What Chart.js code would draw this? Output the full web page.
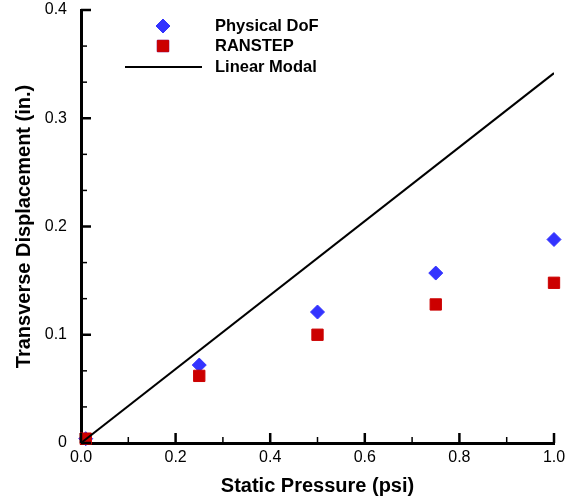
<!DOCTYPE html>
<html>
<head>
<meta charset="utf-8">
<script src="https://cdn.jsdelivr.net/npm/chart.js@4.4.1/dist/chart.umd.min.js"></script>
<style>
  body { margin: 0; background: #fff; }
  #wrap { width: 571px; height: 499px; }
</style>
</head>
<body>
<div id="wrap"><canvas id="myChart"></canvas></div>
<script>
// data
var pressure = [0.01, 0.25, 0.5, 0.75, 1.0];
var physicalDof = [0.004, 0.072, 0.121, 0.157, 0.188];
var ranstep = [0.004, 0.062, 0.100, 0.128, 0.148];
var linearX = [0, 1.0];
var linearY = [0, 0.3417];

var xTickLabels = ["0.0", "0.2", "0.4", "0.6", "0.8", "1.0"];
var yTickLabels = ["0", "0.1", "0.2", "0.3", "0.4"];
var xMinor = [0.1, 0.3, 0.5, 0.7, 0.9];
var yMinor = [1/30, 2/30, 4/30, 5/30, 7/30, 8/30, 10/30, 11/30];

var FONT = '"Liberation Sans", Arial, sans-serif';

function pts(xs, ys) {
    return xs.map(function (x, i) { return { x: x, y: ys[i] }; });
}

// inward pointing tick marks, major and minor
var inwardTicks = {
    id: 'inwardTicks',
    afterDraw: function (chart) {
        var ctx = chart.ctx;
        var xs = chart.scales.x, ys = chart.scales.y;
        var area = chart.chartArea;
        ctx.save();
        ctx.strokeStyle = '#000';
        function tick(x1, y1, x2, y2, w) {
            ctx.lineWidth = w;
            ctx.beginPath();
            ctx.moveTo(x1, y1);
            ctx.lineTo(x2, y2);
            ctx.stroke();
        }
        xs.ticks.forEach(function (t) {
            var px = xs.getPixelForValue(t.value);
            tick(px, area.bottom, px, area.bottom - 10, 2.5);
        });
        xMinor.forEach(function (v) {
            var px = xs.getPixelForValue(v);
            tick(px, area.bottom, px, area.bottom - 6, 1.5);
        });
        ys.ticks.forEach(function (t) {
            var py = ys.getPixelForValue(t.value);
            tick(area.left, py, area.left + 10, py, 2.5);
        });
        yMinor.forEach(function (v) {
            var py = ys.getPixelForValue(v);
            tick(area.left, py, area.left + 6, py, 1.5);
        });
        ctx.restore();
    }
};

// legend drawn inside the plot, top left
var insideLegend = {
    id: 'insideLegend',
    afterDraw: function (chart) {
        var ctx = chart.ctx;
        var area = chart.chartArea;
        var symX = area.left + 82, textX = area.left + 134;
        var rows = [area.top + 16, area.top + 36, area.top + 57];
        ctx.save();
        ctx.font = 'bold 16.5px ' + FONT;
        ctx.textBaseline = 'middle';
        ctx.fillStyle = '#000';
        chart.data.datasets.forEach(function (ds, i) {
            var y = rows[i];
            if (ds.showLine) {
                ctx.strokeStyle = ds.borderColor;
                ctx.lineWidth = ds.borderWidth;
                ctx.beginPath();
                ctx.moveTo(area.left + 44, y);
                ctx.lineTo(area.left + 121, y);
                ctx.stroke();
            } else {
                Chart.helpers.drawPoint(ctx, {
                    pointStyle: ds.pointStyle,
                    radius: ds.pointRadius,
                    borderWidth: ds.borderWidth
                }, symX, y);
                ctx.fillStyle = ds.backgroundColor;
                ctx.strokeStyle = ds.borderColor;
                ctx.lineWidth = ds.borderWidth;
                ctx.fill();
                ctx.stroke();
            }
            ctx.fillStyle = '#000';
            ctx.fillText(ds.label, textX, y);
        });
        ctx.restore();
    }
};

var ctx = document.getElementById('myChart').getContext('2d');
var chart = new Chart(ctx, {
    type: 'scatter',
    data: {
        datasets: [{
            label: 'Physical DoF',
            data: pts(pressure, physicalDof),
            pointStyle: 'rectRot',
            pointRadius: 7,
            backgroundColor: '#3333ff',
            borderColor: '#3333ff',
            borderWidth: 1,
            clip: false,
            order: 3
        }, {
            label: 'RANSTEP',
            data: pts(pressure, ranstep),
            pointStyle: 'rect',
            pointRadius: 8,
            backgroundColor: '#cc0000',
            borderColor: '#cc0000',
            borderWidth: 1,
            clip: false,
            order: 2
        }, {
            label: 'Linear Modal',
            data: pts(linearX, linearY),
            showLine: true,
            pointRadius: 0,
            borderColor: '#000',
            backgroundColor: '#000',
            borderWidth: 2,
            order: 1
        }]
    },
    options: {
        responsive: true,
        maintainAspectRatio: false,
        animation: false,
        layout: { padding: { top: 10, right: 17, left: 0, bottom: 0 } },
        plugins: {
            legend: { display: false },
            tooltip: { enabled: false }
        },
        scales: {
            x: {
                type: 'linear',
                min: 0,
                max: 1,
                grid: { display: false, drawTicks: false },
                border: { display: true, color: '#000', width: 3 },
                ticks: {
                    stepSize: 0.2,
                    padding: 5,
                    color: '#000',
                    font: { family: FONT, size: 16 },
                    callback: function (v, i) { return xTickLabels[i]; }
                },
                title: {
                    display: true,
                    text: 'Static Pressure (psi)',
                    color: '#000',
                    font: { family: FONT, size: 20, weight: 'bold' },
                    padding: { top: 0, bottom: 1 }
                },
                afterFit: function (s) {
                    s.height = 56;
                    s.paddingLeft = 0;
                    s.paddingRight = 0;
                }
            },
            y: {
                type: 'linear',
                min: 0,
                max: 0.4,
                grid: { display: false, drawTicks: false },
                border: { display: true, color: '#000', width: 3 },
                ticks: {
                    stepSize: 0.1,
                    padding: 14,
                    color: '#000',
                    font: { family: FONT, size: 16 },
                    callback: function (v, i) { return yTickLabels[i]; }
                },
                title: {
                    display: true,
                    text: 'Transverse Displacement (in.)',
                    color: '#000',
                    font: { family: FONT, size: 20, weight: 'bold' },
                    padding: { top: 12, bottom: 0 }
                },
                afterFit: function (s) {
                    s.width = 81;
                    s.paddingTop = 0;
                    s.paddingBottom = 0;
                }
            }
        }
    },
    plugins: [inwardTicks, insideLegend]
});
</script>
</body>
</html>
